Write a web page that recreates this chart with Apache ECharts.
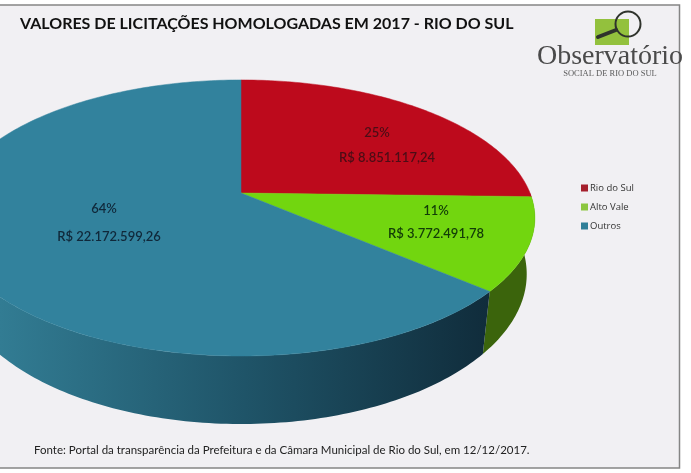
<!DOCTYPE html>
<html>
<head>
<meta charset="utf-8">
<style>
  html, body { margin: 0; padding: 0; background: #fff; }
  #chart { width: 691px; height: 473px; }
</style>
<script src="https://cdn.jsdelivr.net/npm/echarts@6/dist/echarts.min.js"></script>
</head>
<body>
<div id="chart"></div>
<script>
const categories = ['Rio do Sul', 'Alto Vale', 'Outros'];
const values = [8851117.24, 3772491.78, 22172599.26];
const total = values.reduce((a, b) => a + b, 0);

// cores de cada fatia
const topColors = ['#bd0a1c', '#72d60f', '#32829d'];
const legendColors = ['#a51f2c', '#8cc63f', '#2f7f98'];
const textColors = ['#4c0d16', '#123c08', '#10283a'];
const sideStops = [
  [{ offset: 0, color: '#7a0712' }, { offset: 1, color: '#7a0712' }],
  [{ offset: 0, color: '#33590c' }, { offset: 1, color: '#3b640c' }],
  [{ offset: 0, color: '#327c93' }, { offset: 0.5, color: '#1f5468' }, { offset: 1, color: '#102c3b' }]
];

// posicao dos rotulos: [x pct, y pct, x valor, y valor]
const labelSpots = [
  [377, 133, 387, 158],
  [436, 211, 436, 234],
  [104, 209, 109, 237]
];

// perspectiva do disco (topo e base)
const cx = 241;
const topDisc = { cy: 193, a: 289, b: 133.5, k: 0.181 };
const baseDisc = { cy: 247, a: 281, b: 145, k: 0.181 };

const project = (disc, deg) => {
  const r = deg * Math.PI / 180;
  const X = Math.sin(r);
  const Y = -Math.cos(r);
  const d = 1 - disc.k * Y;
  return [cx + disc.a * X / d, disc.cy + disc.b * Y / d];
};

const arcPoints = (disc, from, to) => {
  const pts = [];
  const steps = Math.max(2, Math.ceil(Math.abs(to - from)));
  for (let i = 0; i <= steps; i++) {
    pts.push(project(disc, from + (to - from) * i / steps));
  }
  return pts;
};

const money = (v) => {
  const parts = v.toFixed(2).split('.');
  return 'R$ ' + parts[0].replace(/\B(?=(\d{3})+(?!\d))/g, '.') + ',' + parts[1];
};

const sliceStart = (i) => values.slice(0, i).reduce((a, b) => a + b, 0) / total * 360;

const renderSlice = (i) => (params, api) => {
  const from = sliceStart(i);
  const to = from + api.value(0) / total * 360;
  const children = [];

  // lateral so na metade da frente
  const sideFrom = Math.max(from, 90);
  const sideTo = Math.min(to, 270);
  if (sideTo > sideFrom) {
    const topArc = arcPoints(topDisc, sideFrom, sideTo);
    const baseArc = arcPoints(baseDisc, sideFrom, sideTo).reverse();
    children.push({
      type: 'polygon',
      shape: { points: topArc.concat(baseArc) },
      style: {
        fill: new echarts.graphic.LinearGradient(0, 0, 490, 0, sideStops[i], true)
      }
    });
  }

  children.push({
    type: 'polygon',
    shape: { points: [[cx, topDisc.cy]].concat(arcPoints(topDisc, from, to)) },
    style: { fill: topColors[i], stroke: topColors[i], lineWidth: 0.5 }
  });

  const spot = labelSpots[i];
  children.push({
    type: 'text',
    style: {
      x: spot[0], y: spot[1],
      text: Math.round(api.value(0) / total * 100) + '%',
      fill: textColors[i],
      font: '600 13px Lato',
      textAlign: 'center', textVerticalAlign: 'middle'
    }
  });
  children.push({
    type: 'text',
    style: {
      x: spot[2], y: spot[3],
      text: money(api.value(0)),
      fill: textColors[i],
      font: '600 13px Lato',
      textAlign: 'center', textVerticalAlign: 'middle'
    }
  });
  return { type: 'group', children };
};

const myChart = echarts.init(document.getElementById('chart'));
myChart.setOption({
  backgroundColor: '#ffffff',
  animation: false,
  title: [
    {
      text: 'VALORES DE LICITAÇÕES HOMOLOGADAS EM 2017 - RIO DO SUL',
      left: 20, top: 16, padding: 0,
      textStyle: { fontFamily: 'Lato', fontWeight: 'bold', fontSize: 16, color: '#111' }
    },
    {
      text: 'Fonte: Portal da transparência da Prefeitura e da Câmara Municipal de Rio do Sul, em 12/12/2017.',
      left: 34, top: 444, padding: 0,
      textStyle: { fontFamily: 'Lato', fontWeight: 'normal', fontSize: 11.5, color: '#222' }
    }
  ],
  legend: {
    orient: 'vertical',
    left: 581, top: 183,
    padding: 0,
    itemWidth: 7, itemHeight: 7, itemGap: 9,
    icon: 'rect',
    selectedMode: false,
    data: categories,
    textStyle: { fontFamily: 'Open Sans', fontSize: 9.5, color: '#333', padding: [0, 0, 0, -3] }
  },
  graphic: [
    {
      type: 'rect', z: -1,
      shape: { x: -3, y: 5, width: 682.5, height: 463 },
      style: { fill: '#f1f0f3', stroke: '#858585', lineWidth: 1.5 }
    },
    {
      type: 'rect', z: 10,
      shape: { x: 595, y: 19, width: 34, height: 26 },
      style: { fill: '#93c13d' }
    },
    {
      type: 'circle', z: 11,
      shape: { cx: 628, cy: 24, r: 12.5 },
      style: { fill: 'transparent', stroke: '#2f332c', lineWidth: 2 }
    },
    {
      type: 'line', z: 11,
      shape: { x1: 598, y1: 37, x2: 616, y2: 30 },
      style: { stroke: '#2f332c', lineWidth: 4, lineCap: 'round' }
    },
    {
      type: 'text', z: 11,
      style: {
        x: 610, y: 57, text: 'Observatório',
        font: '28px "Liberation Serif"', fill: '#4a4a4a',
        textAlign: 'center', textVerticalAlign: 'middle'
      }
    },
    {
      type: 'text', z: 11,
      style: {
        x: 610, y: 74, text: 'SOCIAL DE RIO DO SUL',
        font: '8.5px "Liberation Serif"', fill: '#5b5b5b',
        textAlign: 'center', textVerticalAlign: 'middle'
      }
    }
  ],
  series: categories.map((name, i) => ({
    name,
    type: 'custom',
    coordinateSystem: 'none',
    silent: true,
    z: 2,
    itemStyle: { color: legendColors[i] },
    data: [[values[i]]],
    renderItem: renderSlice(i)
  }))
});
</script>
</body>
</html>
